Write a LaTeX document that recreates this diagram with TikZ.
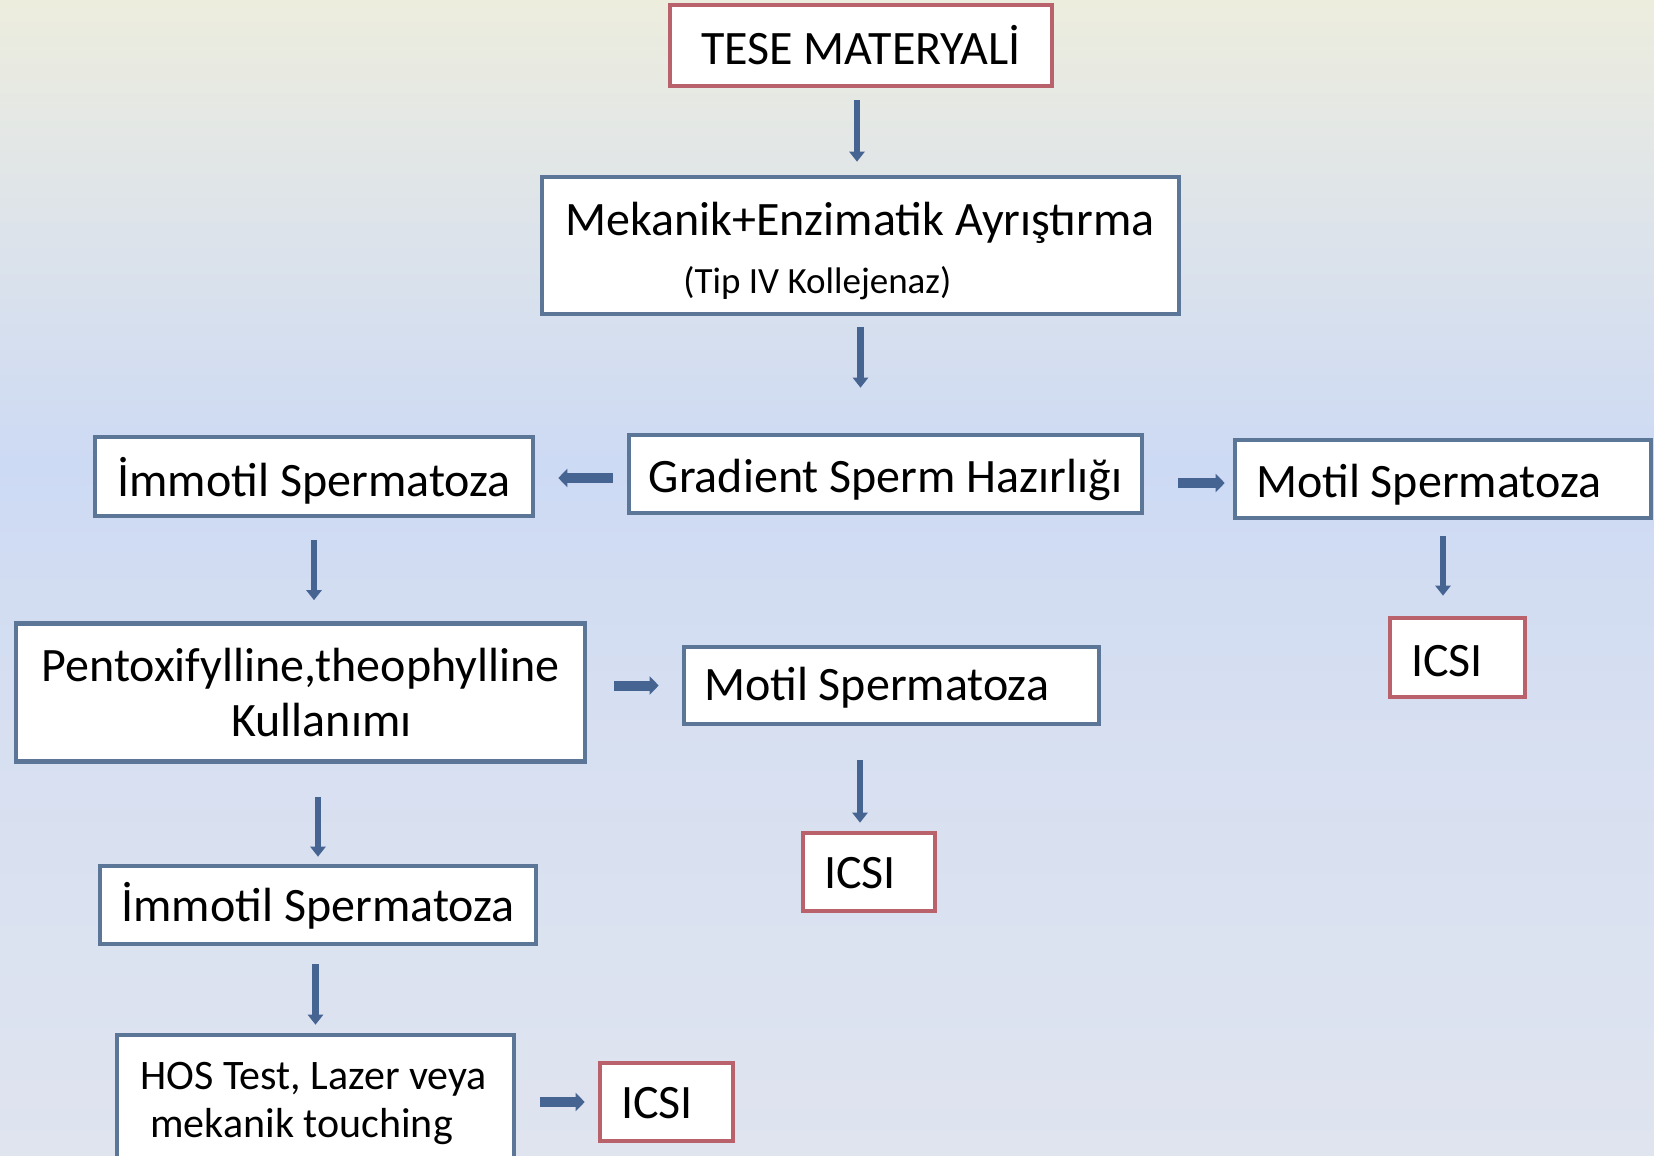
\documentclass[tikz,border=0pt]{standalone}
\usepackage{fontspec}
\setmainfont{Carlito}
\usetikzlibrary{arrows.meta,calc}
\definecolor{boxc}{RGB}{92,118,152}
\definecolor{redc}{RGB}{186,98,108}
\definecolor{arrc}{RGB}{70,100,146}
\definecolor{bgtop}{RGB}{237,237,222}
\definecolor{bgtopb}{RGB}{224,229,232}
\definecolor{bgmid}{RGB}{205,218,244}
\definecolor{bgmidb}{RGB}{214,223,241}
\definecolor{bgbot}{RGB}{223,228,239}
\pgfdeclareverticalshading{bgshade}{100bp}{color(0bp)=(bgbot); color(25bp)=(bgbot); color(45bp)=(bgmidb); color(55bp)=(bgmid); color(67bp)=(bgtopb); color(75bp)=(bgtop); color(100bp)=(bgtop)}
\newcommand{\lowr}[2]{\raisebox{-#1}[\height][\depth]{#2}}
\begin{document}
\begin{tikzpicture}[x=0.5pt,y=-0.5pt,
  box/.style={fill=white, line width=2.3pt, inner sep=0pt, font=\fontsize{24}{29}\selectfont},
  bluebox/.style={box, draw=boxc},
  redbox/.style={box, draw=redc},
  txt/.style={inner sep=0pt, font=\fontsize{24}{29}\selectfont},
  smalltxt/.style={inner sep=0pt, font=\fontsize{18.5}{22}\selectfont},
  hostxt/.style={inner sep=0pt, font=\fontsize{21}{24}\selectfont},
  varrow/.style={draw=arrc, line width=3.3pt, -{Triangle[width=7.5pt,length=5pt]}},
  harrow/.style={draw=arrc, line width=5pt, -{Triangle[width=9pt,length=4.5pt]}}]
\useasboundingbox (0,0) rectangle (1654,1156);
\clip (0,0) rectangle (1654,1156);
\shade[shading=bgshade] (0,0) rectangle (1654,1156);

% boxes
\node[redbox, minimum width=191pt, minimum height=40.5pt] (tese) at (861,45.5) {TESE MATERYALİ};
\node[bluebox, minimum width=318.5pt, minimum height=68.5pt] (mek) at (860.5,245.5) {};
\node[txt, anchor=base west] (mekA) at (565,235) {Mekanik+Enzimatik Ayrıştırma};
\node[smalltxt, anchor=base west] (mekB) at (683,293) {(Tip IV Kollejenaz)};
\node[bluebox, minimum width=256.5pt, minimum height=39pt] (grad) at (885.5,474) {\lowr{3.2pt}{Gradient Sperm Hazırlığı}};
\node[bluebox, minimum width=219pt, minimum height=39.5pt] (imm1) at (314,476.5) {\lowr{2pt}{İmmotil Spermatoza}};
\node[bluebox, minimum width=208pt, minimum height=39pt] (mot1) at (1443,479) {\lowr{3pt}{\makebox[187pt][l]{Motil Spermatoza}}};
\node[redbox, minimum width=67.5pt, minimum height=39.5pt] (icsi1) at (1457.5,657.5) {\lowr{2pt}{\makebox[46.5pt][l]{ICSI}}};
\node[bluebox, minimum width=284.5pt, minimum height=69pt, align=center] (pent) at (300.5,692.5) {Pentoxifylline,theophylline\\[-1.5pt]\hspace*{21pt}Kullanımı};
\node[bluebox, minimum width=207.5pt, minimum height=38.5pt] (mot2) at (891.5,685.5) {\lowr{1pt}{\makebox[187.5pt][l]{Motil Spermatoza}}};
\node[redbox, minimum width=66pt, minimum height=39pt] (icsi2) at (869,872) {\lowr{0.5pt}{\makebox[45pt][l]{ICSI}}};
\node[bluebox, minimum width=218pt, minimum height=39pt] (imm2) at (318,905) {\lowr{0.5pt}{İmmotil Spermatoza}};
\node[bluebox, minimum width=198.5pt, minimum height=67.5pt] (hos) at (315.5,1102.5) {};
\node[hostxt, anchor=base west] (hosA) at (140,1089) {HOS Test, Lazer veya};
\node[hostxt, anchor=base west] (hosB) at (150,1137) {mekanik touching};
\node[redbox, minimum width=66.5pt, minimum height=39pt] (icsi3) at (666.5,1102) {\lowr{0.5pt}{\makebox[45.5pt][l]{ICSI}}};

% connectors
\draw[varrow, shorten <=6pt, shorten >=6.5pt] ([xshift=-2pt]tese.south) -- ([xshift=-2pt]tese.south |- mek.north);
\draw[varrow, shorten <=5.5pt, shorten >=22.5pt] (mek.south) -- (mek.south |- grad.north);
\draw[harrow, shorten <=7pt, shorten >=11.5pt] ([yshift=-2pt]grad.west) -- ([yshift=-2pt]grad.west -| imm1.east);
\draw[harrow, shorten <=17pt, shorten >=4pt] ([yshift=-4.5pt]grad.east) -- ([yshift=-4.5pt]grad.east -| mot1.west);
\draw[varrow, shorten <=11pt, shorten >=10.5pt] (imm1.south) -- (imm1.south |- pent.north);
\draw[varrow, shorten <=8pt, shorten >=10pt] (mot1.south) -- (mot1.south |- icsi1.north);
\draw[harrow, shorten <=13.5pt, shorten >=11.5pt] (mot2.west -| pent.east) -- (mot2.west);
\draw[varrow, shorten <=17pt, shorten >=4pt] ([xshift=-15.75pt]mot2.south) -- ([xshift=-15.75pt]mot2.south |- icsi2.north);
\draw[varrow, shorten <=16.5pt, shorten >=3.5pt] (imm2.north |- pent.south) -- (imm2.north);
\draw[varrow, shorten <=9pt, shorten >=4pt] (hos.north |- imm2.south) -- (hos.north);
\draw[harrow, shorten <=12pt, shorten >=6.5pt] (icsi3.west -| hos.east) -- (icsi3.west);
\end{tikzpicture}
\end{document}
